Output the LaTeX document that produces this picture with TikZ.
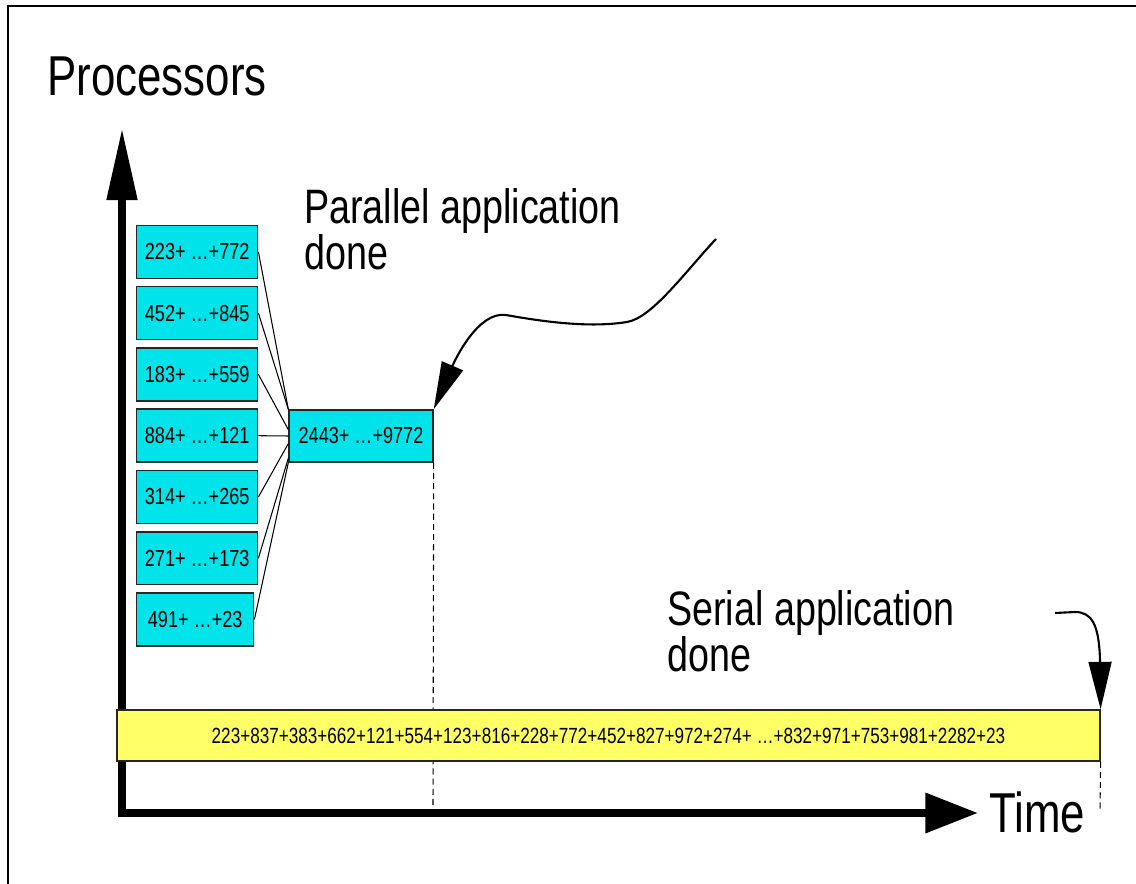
\documentclass[tikz,border=0pt]{standalone}
\usepackage{fontspec}
\newfontfamily\narrowsf{Liberation Sans}[FakeStretch=0.78]
\usetikzlibrary{arrows.meta}
\definecolor{sumcyan}{HTML}{00E3EA}
\definecolor{sumyellow}{HTML}{FFFF66}
\tikzset{
  sumbox/.style={draw=black!85,line width=0.8pt,fill=sumcyan,minimum height=1.06cm,inner sep=0pt,font=\narrowsf\fontsize{13.2}{15}\selectfont},
  bigtext/.style={inner sep=0pt,anchor=base west,font=\narrowsf\fontsize{32}{36}\selectfont},
  midtext/.style={inner sep=0pt,anchor=base west,align=left,font=\narrowsf\fontsize{27.5}{25}\selectfont},
  curly/.style={line width=1.2pt,-{Triangle[length=27pt,width=13pt]}},
  dashline/.style={line width=0.6pt,dash pattern=on 3.5pt off 2.3pt}
}
\begin{document}
\begin{tikzpicture}[x=0.02cm,y=-0.02cm]
\useasboundingbox (0,0) rectangle (1136,884);
\draw[line width=1.1pt](8,884)--(8,6)--(1136,6);
\coordinate(origin) at (122,813);
\coordinate(ytip) at (122,128);
\coordinate(xtip) at (978,813);
\draw[line width=4.6pt,{Triangle[length=41pt,width=16.5pt]}-{Triangle[length=30pt,width=22pt]}](ytip)--(origin)--(xtip);
\node[bigtext](ylabel) at (47,96){Processors};
\node[bigtext](xlabel) at (989,832){Time};
\node[sumbox,minimum width=2.88cm,minimum height=1.04cm](total) at (361,436){2443+ …+9772};
\foreach \lbl/\w/\tgt [count=\i] in {223+ …+772/2.42/north west,452+ …+845/2.42/north west,183+ …+559/2.42/175,884+ …+121/2.42/west,314+ …+265/2.42/186,271+ …+173/2.42/197,491+ …+23/2.34/south west}
{
\node[sumbox,minimum width=\w cm,anchor=west](p\i) at (136,190.5+61.3*\i){\lbl};
\draw[line width=0.6pt](p\i.east)--(total.\tgt);
}
\coordinate(pardash) at (433,805);
\draw[dashline](total.south east)--(pardash);
\node[sumbox,fill=sumyellow,minimum width=19.66cm,minimum height=1.02cm,font=\narrowsf\fontsize{12.5}{15}\selectfont](serial) at (608.5,735.5){223+837+383+662+121+554+123+816+228+772+452+827+972+274+ …+832+971+753+981+2282+23};
\coordinate(serdash) at (1100,812);
\draw[dashline](serial.south east)--(serdash);
\node[midtext](parlabel) at (304,270){Parallel application\\done};
\node[midtext](serlabel) at (667,672){Serial application\\done};
\coordinate(parfrom) at (716,239);
\draw[curly](parfrom)..controls(685,272)and(652,318)..(627,322)..controls(590,328)and(545,322)..(506,315)..controls(478,311)and(455,360)..(total.north east);
\coordinate(serfrom) at (1055,613);
\draw[curly](serfrom)--(1075,612)..controls(1092,612)and(1099,625)..(1100,660)--(serial.north east);
\end{tikzpicture}
\end{document}
